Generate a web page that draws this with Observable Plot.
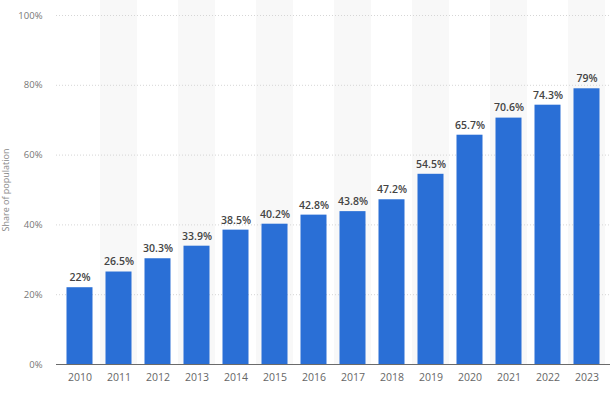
<!DOCTYPE html>
<html>
<head>
<meta charset="utf-8">
<script src="https://cdn.jsdelivr.net/npm/d3@7"></script>
<script src="https://cdn.jsdelivr.net/npm/@observablehq/plot@0.6"></script>
<style>
  html, body { margin: 0; padding: 0; background: #fff; }
  #chart { width: 615px; height: 410px; }
  svg { font-family: "Open Sans", "Noto Sans", sans-serif; }
</style>
</head>
<body>
<div id="chart"></div>
<script>
const years = ["2010","2011","2012","2013","2014","2015","2016","2017","2018","2019","2020","2021","2022","2023"];
const shares = [22, 26.5, 30.3, 33.9, 38.5, 40.2, 42.8, 43.8, 47.2, 54.5, 65.7, 70.6, 74.3, 79];
const labels = ["22%","26.5%","30.3%","33.9%","38.5%","40.2%","42.8%","43.8%","47.2%","54.5%","65.7%","70.6%","74.3%","79%"];
const yTicks = [0, 20, 40, 60, 80, 100];

const data = years.map((y, i) => ({year: y, share: shares[i], label: labels[i]}));
const shaded = years.filter((y, i) => i % 2 === 1);

const chart = Plot.plot({
  width: 615,
  height: 410,
  marginLeft: 56,
  marginRight: 5,
  marginTop: 15,
  marginBottom: 46,
  style: {fontFamily: '"Open Sans", "Noto Sans", sans-serif', background: "#fff"},
  x: {domain: years, padding: 0, label: null},
  y: {domain: [0, 100], label: null},
  marks: [
    Plot.barY(shaded, {x: d => d, y1: 0, y2: 100, fill: "#f8f8f8", insetLeft: 1, insetRight: 1, insetTop: -15}),
    Plot.gridY(yTicks.filter(d => d > 0), {stroke: "#d6d6d6", strokeOpacity: 1, strokeDasharray: "1,2", strokeWidth: 1}),
    Plot.barY(data, {x: "year", y: "share", fill: "#2a6fd6", insetLeft: 6.5, insetRight: 6.5}),
    Plot.ruleY([0], {stroke: "#6b6b6b", strokeWidth: 1.2}),
    Plot.text(data, {x: "year", y: "share", text: "label", dy: -10, fill: "#444", fontWeight: 600, fontSize: 10.5, style: {letterSpacing: "0.4px"}}),
    Plot.axisX({tickSize: 0, tickPadding: 9, fontSize: 10.5, fill: "#666", label: null, style: {letterSpacing: "1px"}}),
    Plot.axisY({ticks: yTicks, tickSize: 0, tickPadding: 14, tickFormat: d => d + "%", fontSize: 9.5, fill: "#777", label: null, style: {letterSpacing: "0.5px"}}),
    Plot.text(["Share of population"], {frameAnchor: "left", textAnchor: "middle", dx: -50, rotate: -90, fontSize: 9, fill: "#888", style: {letterSpacing: "0.3px"}})
  ]
});
document.getElementById("chart").appendChild(chart);
</script>
</body>
</html>
